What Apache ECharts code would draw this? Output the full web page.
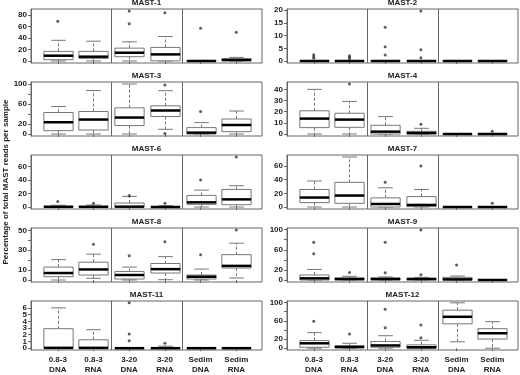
<!DOCTYPE html>
<html>
<head>
<meta charset="utf-8">
<script src="https://cdn.jsdelivr.net/npm/echarts@6/dist/echarts.min.js"></script>
<style>
  html, body { margin: 0; padding: 0; background: #fff; }
  #mast-boxplots { width: 520px; height: 375px; }
</style>
</head>
<body>
<div id="mast-boxplots"></div>
<script>
var categories = ["0.8-3\nDNA", "0.8-3\nRNA", "3-20\nDNA", "3-20\nRNA", "Sedim\nDNA", "Sedim\nRNA"];
var panelNames = ["MAST-1", "MAST-2", "MAST-3", "MAST-4", "MAST-6", "MAST-7", "MAST-8", "MAST-9", "MAST-11", "MAST-12"];

// one row per sample type: [lower whisker, Q1, median, Q3, upper whisker]
var mast1Boxes = [[0, 2.3, 9.2, 16.7, 36], [0, 4.6, 7.5, 16.7, 34.5], [0, 7.5, 14.4, 22.4, 33.4], [0, 0.3, 11.5, 23.6, 42.6], [0, 0, 0, 0.5, 1], [0, 0.5, 1.7, 4, 6.3]];
var mast2Boxes = [[0, 0, 0, 0.1, 0.2], [0, 0, 0, 0.1, 0.2], [0, 0, 0, 0.1, 0.2], [0, 0, 0, 0.1, 0.2], [0, 0, 0, 0.1, 0.1], [0, 0, 0, 0.1, 0.1]];
var mast3Boxes = [[0, 6.7, 23.5, 43, 55], [0, 8, 28.9, 45, 87], [0, 16.8, 32.9, 52.3, 100], [9.4, 35, 47, 56.4, 86.6], [0, 0, 2.7, 12.8, 22.8], [0, 4.7, 18, 30, 46]];
var mast4Boxes = [[0, 5.7, 13.8, 20.8, 40], [0, 6, 12.9, 18.6, 29.2], [0, 0, 2.1, 7.8, 15.6], [0, 0, 0.9, 2.4, 5.1], [0, 0, 0, 0.2, 0.3], [0, 0, 0, 0.2, 0.5]];
var mast6Boxes = [[0, 0, 0.3, 1, 2.5], [0, 0, 0.3, 1, 3], [0, 0, 0.5, 5.9, 15.7], [0, 0, 0, 0.3, 2], [0, 3.9, 6.9, 17.2, 25], [0, 3.4, 11.3, 26, 31.5]];
var mast7Boxes = [[0, 6.4, 13.8, 25.6, 38], [0, 5.4, 16.7, 36, 73], [0, 0, 4.4, 13.3, 28], [0, 0.5, 3, 15.2, 25.6], [0, 0, 0, 0.2, 0.3], [0, 0, 0, 0.3, 0.5]];
var mast8Boxes = [[0, 3.3, 7, 13, 20.5], [1.7, 5, 10.6, 17.9, 26], [0, 1, 5, 8.6, 13], [0.3, 7, 10.9, 16.6, 23.5], [0, 1, 3.3, 5, 11], [2, 12, 14.2, 25.5, 37]];
var mast9Boxes = [[0, 0, 3.3, 10, 21], [0, 0, 2, 4, 7.3], [0, 0, 2, 4, 6], [0, 0, 2, 3.3, 5.3], [0, 0, 1.3, 5.3, 7.9], [0, 0, 0, 0.3, 0.5]];
var mast11Boxes = [[0, 0, 0.05, 2.9, 6], [0, 0, 0.05, 1.25, 2.75], [0, 0, 0, 0.05, 0.05], [0, 0, 0, 0.05, 0.3], [0, 0, 0, 0.05, 0.05], [0, 0, 0, 0.05, 0.05]];
var mast12Boxes = [[0, 2, 10.7, 16.7, 34], [0, 0.7, 2.7, 5.3, 10.7], [0, 2, 6, 14.7, 27.3], [0, 0, 2, 7.3, 17.3], [14, 53.3, 68.7, 83.3, 99.3], [0, 20, 32.7, 42.7, 58]];

// outliers: [sample position (1..6), value]
var mast1Outliers = [[1, 69], [3, 87], [3, 65], [4, 84], [5, 57], [6, 50]];
var mast2Outliers = [[1, 2.5], [1, 1.8], [1, 1.1], [2, 2.1], [2, 1.5], [2, 0.9], [3, 13.3], [3, 5.6], [3, 2.4], [4, 19.7], [4, 4.4], [4, 1.3]];
var mast3Outliers = [[4, 98], [4, 0.8], [5, 45]];
var mast4Outliers = [[2, 44.8], [4, 8.7], [6, 2.4]];
var mast6Outliers = [[1, 8], [2, 5.4], [3, 17], [4, 5.4], [5, 40], [6, 74]];
var mast7Outliers = [[3, 36], [4, 60], [6, 5.4]];
var mast8Outliers = [[2, 36], [3, 24.5], [4, 38.4], [5, 25.5], [6, 50.3]];
var mast9Outliers = [[1, 75], [1, 52], [2, 15], [3, 75], [3, 14.6], [4, 99.3], [4, 10.6], [5, 29.8]];
var mast11Outliers = [[3, 6.75], [3, 2.1], [3, 1.1], [4, 0.75]];
var mast12Outliers = [[1, 58.7], [2, 31.3], [3, 85], [3, 44.7], [4, 50.7], [4, 22.7]];

var yTicks = [[0, 20, 40, 60, 80], [0, 5, 10, 15, 20], [0, 20, 40, 60, 80, 100], [0, 10, 20, 30, 40], [0, 20, 40, 60],
  [0, 20, 40, 60], [0, 10, 20, 30, 40, 50], [0, 20, 40, 60, 80, 100], [0, 1, 2, 3, 4, 5, 6], [0, 20, 40, 60, 80, 100]];
var yLabels = [[0, 20, 40, 60, 80], [0, 5, 10, 15, 20], [0, 20, 60, 100], [0, 10, 20, 30, 40], [0, 20, 40, 60],
  [0, 20, 40, 60], [0, 10, 30, 50], [0, 20, 60, 100], [0, 1, 2, 3, 4, 5, 6], [0, 20, 60, 100]];
var groupBreaks = [2.5, 4.5];

var boxSets = [mast1Boxes, mast2Boxes, mast3Boxes, mast4Boxes, mast6Boxes, mast7Boxes, mast8Boxes, mast9Boxes, mast11Boxes, mast12Boxes];
var outlierSets = [mast1Outliers, mast2Outliers, mast3Outliers, mast4Outliers, mast6Outliers, mast7Outliers, mast8Outliers, mast9Outliers, mast11Outliers, mast12Outliers];

// layout
var rowTops = [9, 82, 155, 228, 301];
var colLefts = [31, 287];
var panelW = 231, panelH = 54;
var boxWidth = 0.82; // in x units
var font = "Liberation Sans";
var frameColor = "#666";
var boxColor = "#777";

function renderBox(params, api) {
  var x = api.value(0);
  var lo = api.coord([x, api.value(1)]);
  var q1 = api.coord([x, api.value(2)]);
  var md = api.coord([x, api.value(3)]);
  var q3 = api.coord([x, api.value(4)]);
  var hi = api.coord([x, api.value(5)]);
  var bw = api.size([boxWidth, 0])[0];
  var cx = Math.round(md[0]) + 0.5;
  var solid = { stroke: boxColor, lineWidth: 1 };
  var dashed = { stroke: boxColor, lineWidth: 1, lineDash: [3, 2] };
  return {
    type: "group",
    children: [
      { type: "line", shape: { x1: cx, y1: q3[1], x2: cx, y2: hi[1] }, style: dashed },
      { type: "line", shape: { x1: cx, y1: q1[1], x2: cx, y2: lo[1] }, style: dashed },
      { type: "line", shape: { x1: cx - bw / 4, y1: hi[1], x2: cx + bw / 4, y2: hi[1] }, style: solid },
      { type: "line", shape: { x1: cx - bw / 4, y1: lo[1], x2: cx + bw / 4, y2: lo[1] }, style: solid },
      { type: "rect", shape: { x: cx - bw / 2, y: q3[1], width: bw, height: q1[1] - q3[1] }, style: { fill: "#fff", stroke: boxColor, lineWidth: 1 } },
      { type: "line", shape: { x1: cx - bw / 2, y1: md[1], x2: cx + bw / 2, y2: md[1] }, style: { stroke: "#000", lineWidth: 2.5 } }
    ]
  };
}

function yLabelStyle(values) {
  return {
    customValues: values, hideOverlap: false, showMinLabel: true, showMaxLabel: true,
    fontSize: 8, fontWeight: "bold", fontFamily: font, color: "#222", margin: 4
  };
}

var grids = [], xAxes = [], yAxes = [], titles = [], series = [];

panelNames.forEach(function (name, i) {
  var r = Math.floor(i / 2), c = i % 2;
  var left = colLefts[c], top = rowTops[r];
  // R style range: data range padded by 4%
  var dmax = 0;
  boxSets[i].forEach(function (b) { dmax = Math.max(dmax, b[4]); });
  outlierSets[i].forEach(function (o) { dmax = Math.max(dmax, o[1]); });
  var ymin = -0.04 * dmax, ymax = 1.04 * dmax;

  grids.push({ left: left, top: top, width: panelW, height: panelH, show: true, borderColor: frameColor, borderWidth: 1 });
  xAxes.push({
    type: "value", gridIndex: i, min: 0.25, max: 6.72,
    axisLine: { show: false }, splitLine: { show: false },
    axisTick: { show: true, customValues: [1, 2, 3, 4, 5, 6], length: 3, lineStyle: { color: frameColor } },
    axisLabel: {
      show: r === 4, customValues: [1, 2, 3, 4, 5, 6], hideOverlap: false,
      formatter: function (v) { return categories[Math.round(v) - 1]; },
      fontSize: 8, fontWeight: "bold", fontFamily: font, color: "#222", lineHeight: 10, margin: 5
    }
  });
  // labels split over two overlaid axes so close labels (MAST-11) are not dropped
  var evenLabels = yLabels[i].filter(function (v, k) { return k % 2 === 0; });
  var oddLabels = yLabels[i].filter(function (v, k) { return k % 2 === 1; });
  yAxes.push({
    type: "value", gridIndex: i, position: "left", min: ymin, max: ymax,
    axisLine: { show: true, lineStyle: { color: frameColor } }, splitLine: { show: false },
    axisTick: { show: true, customValues: yTicks[i], length: 3, lineStyle: { color: frameColor } },
    axisLabel: yLabelStyle(evenLabels)
  });
  yAxes.push({
    type: "value", gridIndex: i, position: "left", offset: 0, min: ymin, max: ymax,
    axisLine: { show: false }, axisTick: { show: false }, splitLine: { show: false },
    axisLabel: yLabelStyle(oddLabels)
  });
  titles.push({
    text: name, left: left + panelW / 2, top: top - 10, textAlign: "center", padding: 0,
    textStyle: { fontSize: 8, fontWeight: "bold", fontFamily: font, color: "#222" }
  });
  series.push({
    type: "custom", xAxisIndex: i, yAxisIndex: 2 * i, renderItem: renderBox, silent: true, z: 2,
    encode: { x: 0, y: [1, 2, 3, 4, 5] },
    data: boxSets[i].map(function (b, k) { return [k + 1].concat(b); })
  });
  series.push({
    type: "scatter", xAxisIndex: i, yAxisIndex: 2 * i, silent: true, z: 3,
    symbol: "circle", symbolSize: 3, itemStyle: { color: "#333" },
    data: outlierSets[i],
    markLine: {
      silent: true, symbol: "none", label: { show: false }, animation: false,
      lineStyle: { color: frameColor, width: 1, type: "solid" },
      data: groupBreaks.map(function (g) { return { xAxis: g }; })
    }
  });
});

var chart = echarts.init(document.getElementById("mast-boxplots"));
chart.setOption({
  animation: false,
  title: titles,
  grid: grids,
  xAxis: xAxes,
  yAxis: yAxes,
  series: series,
  graphic: [{
    type: "text", x: 6, y: 182, rotation: Math.PI / 2,
    style: { text: "Percentage of total MAST reads per sample", font: "bold 8px " + font, fill: "#222", align: "center", verticalAlign: "middle" }
  }]
});
</script>
</body>
</html>
